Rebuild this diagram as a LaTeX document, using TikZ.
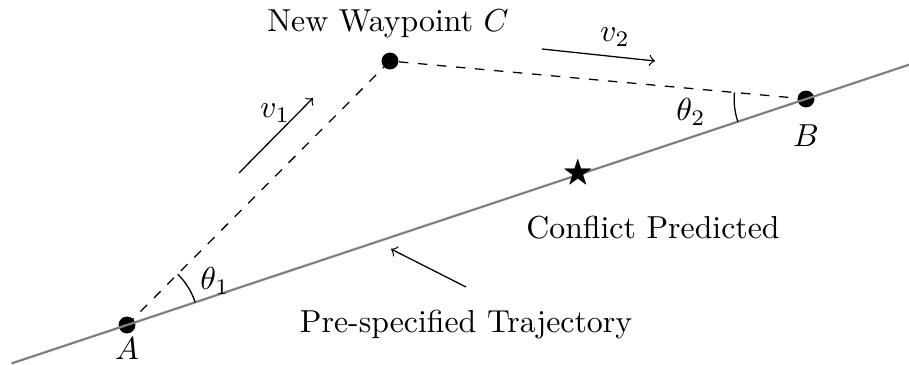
\documentclass[tikz,border=0pt]{standalone}
\usepackage{amssymb}
\usetikzlibrary{calc}
\begin{document}
\begin{tikzpicture}[x=0.3145pt,y=-0.3145pt,
  dot/.style={circle,fill=black,inner sep=0pt,minimum size=5.3pt},
  traj/.style={draw=black!50,line width=0.7pt},
  vec/.style={->,line width=0.4pt},
  lbl/.style={inner sep=0pt},
  anglearc/.style={line width=0.4pt}]
\useasboundingbox (0,0) rectangle (909,364);
% points
\node[dot] (A) at (127,325) {};
\node[dot] (B) at (806,99) {};
\node[dot] (C) at (390,61) {};
% new path
\draw[dashed] (A.center) -- (C.center) -- (B.center);
% trajectory
\draw[traj] ($(A.center)!-0.17!(B.center)$) -- ($(A.center)!1.16!(B.center)$);
% conflict star
\node[lbl] (S) at (578,174) {$\bigstar$};
% labels
\node[lbl] (la) at (127,349) {$A$};
\node[lbl] (lb) at (806,136) {$B$};
\node[lbl,anchor=base] (lc) at (388,31) {New Waypoint $C$};
\node[lbl,anchor=base] (lcp) at (653,238) {Conflict Predicted};
\node[lbl,anchor=base] (lpt) at (466,332) {Pre-specified Trajectory};
% angles
\draw[anglearc] (A.center) ++(18.41:22.6pt) arc[start angle=18.41,end angle=45.1,radius=22.6pt];
\draw[anglearc] (B.center) ++(174.8:22.6pt) arc[start angle=174.8,end angle=198.41,radius=22.6pt];
\node[lbl] (t1) at (215,281) {$\theta_1$};
\node[lbl] (t2) at (691,112) {$\theta_2$};
% velocity arrows
\coordinate (v1s) at (239,173);
\coordinate (v1e) at (313,98);
\draw[vec] (v1s) -- (v1e);
\node[lbl] (lv1) at (275,113) {$v_1$};
\coordinate (v2s) at (542,49);
\coordinate (v2e) at (655,61);
\draw[vec] (v2s) -- (v2e);
\node[lbl] (lv2) at (615,37) {$v_2$};
% pointer to trajectory
\coordinate (ps) at (466,287);
\coordinate (pe) at (391,249);
\draw[vec] (ps) -- (pe);
\end{tikzpicture}
\end{document}
